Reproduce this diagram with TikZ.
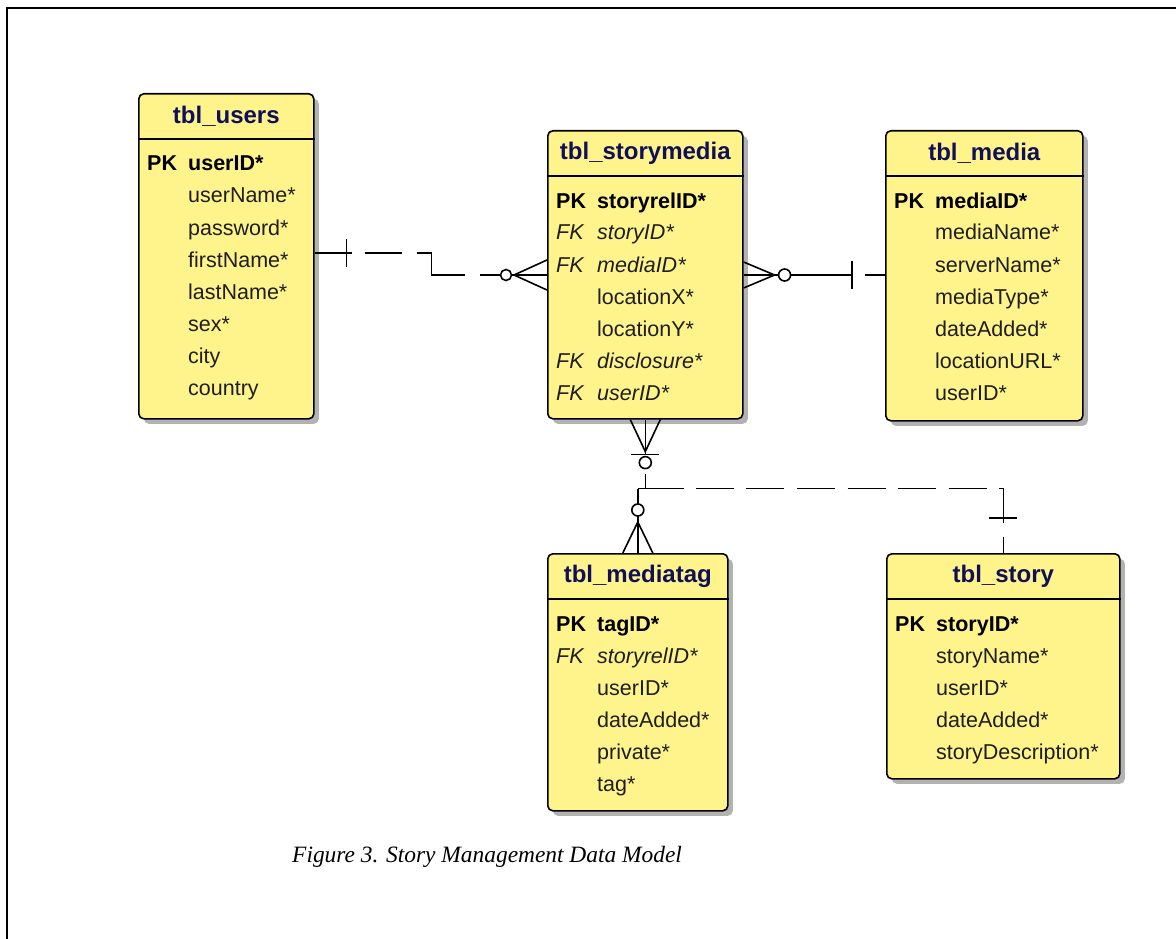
\documentclass[tikz,border=0pt]{standalone}
\usepackage{fontspec}
\setmainfont{Liberation Sans}
\newfontfamily\capfont{Liberation Serif}
\usetikzlibrary{calc,shadows}
\definecolor{tblfill}{RGB}{255,243,140}
\definecolor{tbltitle}{RGB}{16,16,90}
\definecolor{fldtext}{RGB}{30,30,30}
\tikzset{
  tbl/.style={draw=black, line width=1.6pt, fill=tblfill, rounded corners=5pt,
    anchor=north west, inner sep=0pt,
    drop shadow={shadow xshift=5pt, shadow yshift=-5pt, fill=black, opacity=.3}},
  hdr/.style={draw=black, line width=1.6pt},
  ttl/.style={inner sep=0pt, text=tbltitle, font=\fontsize{24}{28}\selectfont\bfseries},
  fld/.style={inner sep=0pt, anchor=base west, text=fldtext, font=\fontsize{21.5}{25}\selectfont},
  fldb/.style={fld, font=\fontsize{21.5}{25}\selectfont\bfseries, text=black},
  fldi/.style={fld, font=\fontsize{21.5}{25}\selectfont\itshape},
  rel/.style={draw=black, line width=1.6pt},
  caption/.style={inner sep=0pt, anchor=base west, font=\fontsize{23.4}{28}\selectfont\capfont\itshape}
}
\newcommand\ertable[6]{%
  \node[tbl, minimum width=#4pt, minimum height=#5pt] (#1) at (#2,#3) {};
  \draw[hdr] ($(#1.north west)+(0,46)$) -- ($(#1.north east)+(0,46)$);
  \node[ttl] (#1-title) at ($(#1.north)+(0,23)$) {#6};
}
\newcommand\pkrow[2]{%
  \node[fldb] (#1-k0) at ($(#1.north west)+(9,78)$) {PK};
  \node[fldb] (#1-f0) at ($(#1.north west)+(50,78)$) {#2};
}
\newcommand\fkrow[3]{%
  \node[fldi] (#1-k#2) at ($(#1.north west)+(9,{78+32*#2})$) {FK};
  \node[fldi] (#1-f#2) at ($(#1.north west)+(50,{78+32*#2})$) {#3};
}
\newcommand\plainrow[3]{%
  \node[fld] (#1-f#2) at ($(#1.north west)+(50,{78+32*#2})$) {#3};
}
\begin{document}
\begin{tikzpicture}[x=1pt,y=-1pt]
\useasboundingbox (0,0) rectangle (1176,939);
\fill[white] (0,0) rectangle (1176,939);
\draw[line width=2.2pt] (7,939) -- (7,8) -- (1176,8);

% tables
\ertable{users}{138}{93}{175}{325}{tbl\_users}
\pkrow{users}{userID*}
\plainrow{users}{1}{userName*}
\plainrow{users}{2}{password*}
\plainrow{users}{3}{firstName*}
\plainrow{users}{4}{lastName*}
\plainrow{users}{5}{sex*}
\plainrow{users}{6}{city}
\plainrow{users}{7}{country}

\ertable{storymedia}{547}{130}{195}{288}{tbl\_storymedia}
\pkrow{storymedia}{storyrelID*}
\fkrow{storymedia}{1}{storyID*}
\fkrow{storymedia}{2}{mediaID*}
\plainrow{storymedia}{3}{locationX*}
\plainrow{storymedia}{4}{locationY*}
\fkrow{storymedia}{5}{disclosure*}
\fkrow{storymedia}{6}{userID*}

\ertable{media}{885}{130}{197}{290}{tbl\_media}
\pkrow{media}{mediaID*}
\plainrow{media}{1}{mediaName*}
\plainrow{media}{2}{serverName*}
\plainrow{media}{3}{mediaType*}
\plainrow{media}{4}{dateAdded*}
\plainrow{media}{5}{locationURL*}
\plainrow{media}{6}{userID*}

\ertable{mediatag}{547}{553}{180}{257}{tbl\_mediatag}
\pkrow{mediatag}{tagID*}
\fkrow{mediatag}{1}{storyrelID*}
\plainrow{mediatag}{2}{userID*}
\plainrow{mediatag}{3}{dateAdded*}
\plainrow{mediatag}{4}{private*}
\plainrow{mediatag}{5}{tag*}

\ertable{story}{886}{553}{233}{225}{tbl\_story}
\pkrow{story}{storyID*}
\plainrow{story}{1}{storyName*}
\plainrow{story}{2}{userID*}
\plainrow{story}{3}{dateAdded*}
\plainrow{story}{4}{storyDescription*}

% connector users -- storymedia
\coordinate (uA) at ($(users.north east)+(0,160)$);
\coordinate (smA) at ($(storymedia.north west)+(0,145)$);
\draw[rel] (uA) -- ++(37,0);
\draw[rel] ($(uA)+(32,-14)$) -- ++(0,28);
\draw[rel] ($(uA)+(50,0)$) -- ++(37,0);
\draw[rel] ($(uA)+(102,0)$) -- ++(15,0) |- ($(smA)+(-82,0)$);
\draw[rel] ($(smA)+(-67,0)$) -- ++(20,0);
\draw[rel] ($(smA)+(-41,0)$) circle[radius=5.5pt];
\draw[rel] ($(smA)+(-35.5,0)$) -- (smA);
\draw[rel] ($(smA)+(0,-15)$) -- ($(smA)+(-33,0)$) -- ($(smA)+(0,15)$);

% connector storymedia -- media
\coordinate (smB) at ($(storymedia.north east)+(0,145)$);
\coordinate (mB) at ($(media.north west)+(0,145)$);
\draw[rel] ($(smB)+(0,-13)$) -- ($(smB)+(31,0)$) -- ($(smB)+(0,13)$);
\draw[rel] (smB) -- ++(35,0);
\draw[rel] ($(smB)+(41,0)$) circle[radius=6pt];
\draw[rel] ($(smB)+(47,0)$) -- ($(mB)+(-33,0)$);
\draw[rel] ($(mB)+(-33,-14)$) -- ++(0,28);
\draw[rel] ($(mB)+(-20,0)$) -- (mB);

% connectors below storymedia
\coordinate (smC) at (storymedia.south);
\coordinate (jC) at ($(smC)+(0,69)$);
\draw[rel] ($(smC)+(-15,0)$) -- ($(smC)+(0,32)$) -- ($(smC)+(15,0)$);
\draw[rel] (smC) -- ++(0,35);
\draw[rel] ($(smC)+(-14,35)$) -- ++(28,0);
\draw[rel] ($(smC)+(0,43)$) circle[radius=6pt];
\draw[rel] ($(smC)+(0,54)$) -- (jC);

\coordinate (mtC) at (mediatag.north);
\coordinate (hC) at (mtC |- jC);
\draw[rel] (hC) -- ($(mtC)+(0,-49)$);
\draw[rel] ($(mtC)+(0,-43)$) circle[radius=6pt];
\draw[rel] ($(mtC)+(0,-37)$) -- (mtC);
\draw[rel] ($(mtC)+(-15,0)$) -- ($(mtC)+(0,-31)$) -- ($(mtC)+(15,0)$);
\draw[rel] (hC) -- ++(45,0);

\coordinate (stC) at (story.north);
\draw[rel, dash pattern=on 38pt off 12.6pt, dash phase=37.6pt] ($(hC)+(45,0)$) -| ($(stC)+(0,-28)$);
\draw[rel] ($(stC)+(-14,-35)$) -- ++(28,0);
\draw[rel] ($(stC)+(0,-16)$) -- (stC);

% caption
\node[caption] (cap) at (292,862) {Figure 3. Story Management Data Model};
\end{tikzpicture}
\end{document}
